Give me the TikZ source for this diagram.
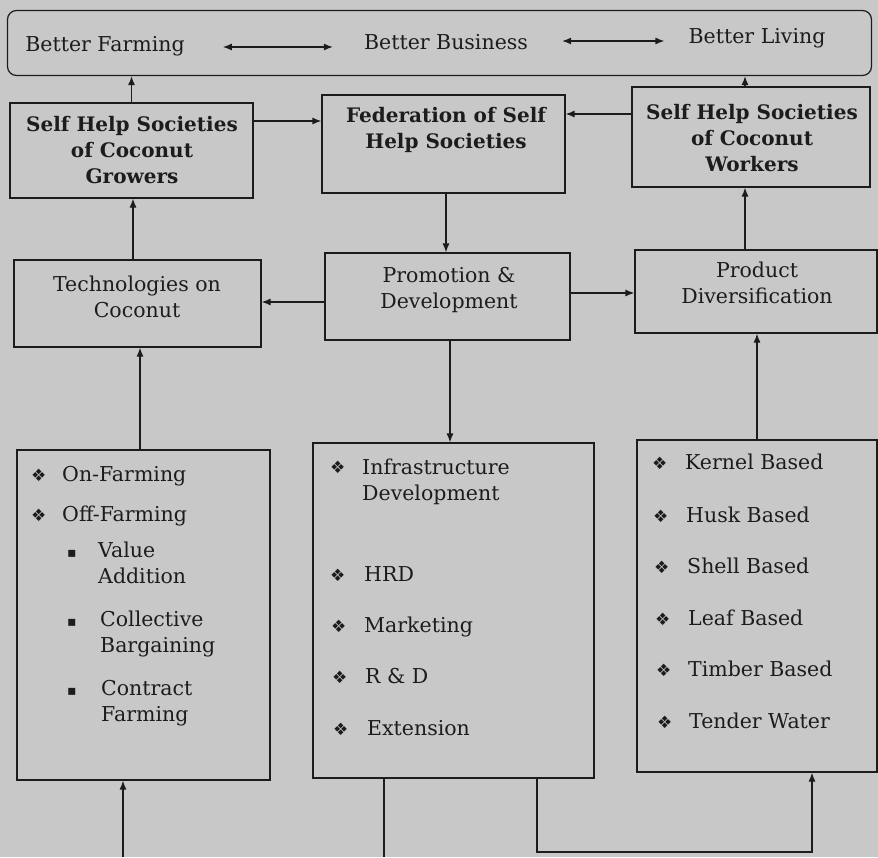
\documentclass[tikz,border=0pt]{standalone}
\usepackage{fontspec}
\setmainfont{DejaVu Serif}
\newfontfamily\symf{DejaVu Sans}
\usetikzlibrary{arrows.meta}
\definecolor{paper}{RGB}{200,200,200}
\definecolor{ink}{RGB}{28,28,28}
\tikzset{
  box/.style={draw=ink, line width=1.2pt, rectangle, align=center, inner sep=0pt},
  lbl/.style={align=center, inner sep=0pt, text=ink, font=\fontsize{20.5}{26.5}\selectfont},
  blbl/.style={align=center, inner sep=0pt, text=ink, font=\fontsize{20}{26}\selectfont\bfseries},
  item/.style={anchor=base west, inner sep=0pt, text=ink, align=left, font=\fontsize{20.5}{26}\selectfont},
  bul/.style={anchor=base west, inner sep=0pt, text=ink, font=\symf\fontsize{17}{18}\selectfont},
  sbul/.style={anchor=base west, inner sep=0pt, text=ink, font=\symf\fontsize{14}{16}\selectfont},
  arr/.style={draw=ink, line width=1.2pt, -{Latex[length=9pt,width=7pt]}},
  dar/.style={draw=ink, line width=1.2pt, {Latex[length=9pt,width=7pt]}-{Latex[length=9pt,width=7pt]}},
  ln/.style={draw=ink, line width=1.2pt},
}
\begin{document}
\begin{tikzpicture}[x=1pt,y=-1pt]
\fill[paper] (0,0) rectangle (878,857);
\useasboundingbox (0,0) rectangle (878,857);

% top rounded box
\node[box, rounded corners=9pt, minimum width=864pt, minimum height=65pt] (top) at (439.5,43) {};
\node[lbl] (bf) at (105,46) {Better Farming};
\node[lbl] (bb) at (446,42) {Better Business};
\node[lbl] (bl) at (757,38) {Better Living};
\draw[dar, shorten <=38pt, shorten >=31pt] ([yshift=-1pt]bf.east) coordinate (e1) -- (e1 -| bb.west);
\draw[dar, shorten <=34pt, shorten >=24pt] ([yshift=1pt]bb.east) coordinate (e2) -- (e2 -| bl.west);

% second row
\node[box, minimum width=243pt, minimum height=95pt] (growers) at (131.5,150.5) {};
\node[blbl] (growerst) at (132,150) {Self Help Societies\\of Coconut\\Growers};
\node[box, minimum width=243pt, minimum height=98pt] (fed) at (443.5,144) {};
\node[blbl] (fedt) at (446,130) {Federation of Self\\Help Societies};
\node[box, minimum width=238pt, minimum height=100pt] (workers) at (751,137) {};
\node[blbl] (workerst) at (752,138) {Self Help Societies\\of Coconut\\Workers};

% third row
\node[box, minimum width=247pt, minimum height=87pt] (tech) at (137.5,303.5) {};
\node[lbl] (techt) at (137,297) {Technologies on\\Coconut};
\node[box, minimum width=245pt, minimum height=87pt] (prom) at (447.5,296.5) {};
\node[lbl] (promt) at (449,290) {Promotion \&\\Development};
\node[box, minimum width=242pt, minimum height=83pt] (prod) at (756,291.5) {};
\node[lbl] (prodt) at (757,283) {Product\\Diversification};

% list boxes
\node[box, minimum width=253pt, minimum height=330pt] (leftl) at (143.5,615) {};
\node[box, minimum width=281pt, minimum height=335pt] (midl) at (453.5,610.5) {};
\node[box, minimum width=240pt, minimum height=332pt] (rightl) at (757,606) {};

% left list items
\node[bul] (lb1) at (31,481) {❖};  \node[item] (li1) at (62,481) {On-Farming};
\node[bul] (lb2) at (31,521) {❖};  \node[item] (li2) at (62,521) {Off-Farming};
\node[sbul] (lb3) at (67,557) {▪};  \node[item] (li3) at (98,583) {Value\\Addition};
\node[sbul] (lb4) at (67,626) {▪};  \node[item] (li4) at (100,652) {Collective\\Bargaining};
\node[sbul] (lb5) at (67,695) {▪};  \node[item] (li5) at (101,721) {Contract\\Farming};

% middle list items
\node[bul] (mb1) at (330,473) {❖}; \node[item] (mi1) at (362,500) {Infrastructure\\Development};
\node[bul] (mb2) at (330,581) {❖}; \node[item] (mi2) at (364,581) {HRD};
\node[bul] (mb3) at (331,632) {❖}; \node[item] (mi3) at (364,632) {Marketing};
\node[bul] (mb4) at (332,683) {❖}; \node[item] (mi4) at (365,683) {R \& D};
\node[bul] (mb5) at (333,735) {❖}; \node[item] (mi5) at (367,735) {Extension};

% right list items
\node[bul] (rb1) at (652,469) {❖}; \node[item] (ri1) at (685,469) {Kernel Based};
\node[bul] (rb2) at (653,522) {❖}; \node[item] (ri2) at (686,522) {Husk Based};
\node[bul] (rb3) at (654,573) {❖}; \node[item] (ri3) at (687,573) {Shell Based};
\node[bul] (rb4) at (655,625) {❖}; \node[item] (ri4) at (688,625) {Leaf Based};
\node[bul] (rb5) at (656,676) {❖}; \node[item] (ri5) at (688,676) {Timber Based};
\node[bul] (rb6) at (657,728) {❖}; \node[item] (ri6) at (689,728) {Tender Water};

% connectors
\draw[arr] (growers.north) -- (growers.north |- top.south);
\draw[arr] ([xshift=-6pt]workers.north) -- ([xshift=-6pt]workers.north |- top.south);
\draw[arr] ([yshift=29.5pt]growers.east) coordinate (g1) -- (g1 -| fed.west);
\draw[arr] ([yshift=23pt]workers.west) coordinate (w1) -- (w1 -| fed.east);
\draw[arr] ([xshift=2.5pt]fed.south) coordinate (f1) -- (f1 |- prom.north);
\draw[arr] ([yshift=-5.5pt]prom.west) coordinate (p1) -- (p1 -| tech.east);
\draw[arr] ([yshift=3.5pt]prom.east) coordinate (p2) -- (p2 -| prod.west);
\draw[arr] ([xshift=-4.5pt]tech.north) coordinate (t1) -- (t1 |- growers.south);
\draw[arr] ([xshift=-11pt]prod.north) coordinate (d1) -- (d1 |- workers.south);
\draw[arr] ([xshift=2.5pt]prom.south) coordinate (p3) -- (p3 |- midl.north);
\draw[arr] ([xshift=-3.5pt]leftl.north) coordinate (l1) -- (l1 |- tech.south);
\draw[arr] (rightl.north) -- (rightl.north |- prod.south);

\coordinate (bl0) at (123,857);
\draw[arr] (bl0) -- (bl0 |- leftl.south);
\coordinate (bm0) at (384,857);
\draw[ln] (bm0 |- midl.south) -- (bm0);
\coordinate (mr) at (537,852);
\coordinate (br) at (812,852);
\draw[arr] (mr |- midl.south) -- (mr) -- (br) -- (br |- rightl.south);
\end{tikzpicture}
\end{document}
